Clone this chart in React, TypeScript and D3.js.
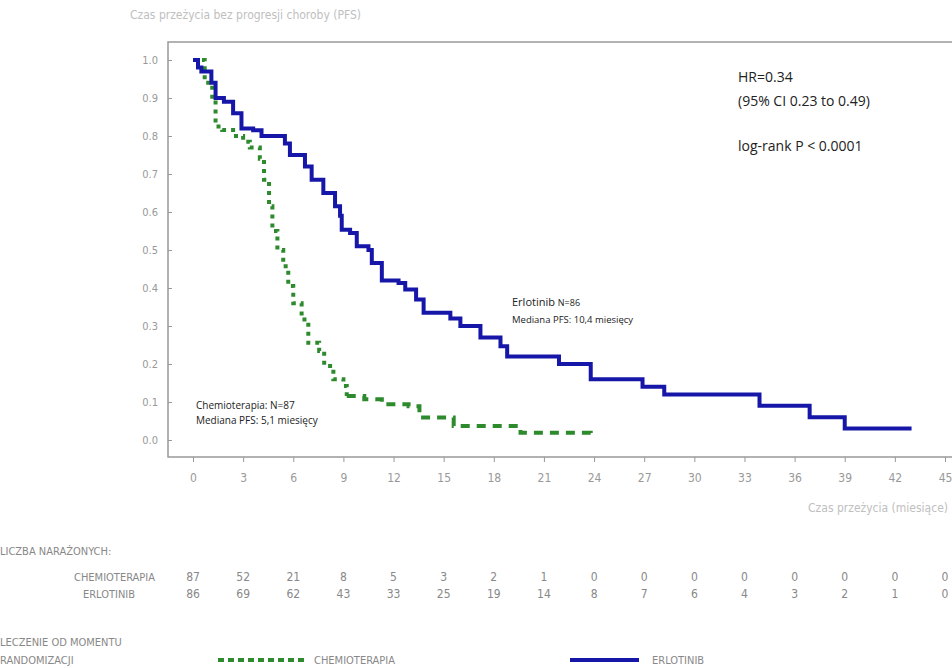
import React, { useEffect, useRef } from "react";
import * as d3 from "d3";

// Kaplan-Meier steps (month, survival)
const erloTime = [0, 0.3, 0.5, 1.1, 1.35, 1.85, 2.4, 2.9, 3.6, 4.1, 5.5, 5.8, 6.7, 7.1, 7.8, 8.5, 8.8, 8.9, 9.4, 9.8, 10.5, 10.7, 11.3, 12.3, 12.7, 13.35, 13.8, 15.4, 16.0, 17.2, 18.4, 18.8, 21.9, 23.8, 26.9, 28.2, 33.9, 36.9, 39.0, 43.0];
const erloSurv = [1.0, 0.98, 0.97, 0.94, 0.9, 0.89, 0.86, 0.82, 0.815, 0.8, 0.78, 0.75, 0.72, 0.685, 0.65, 0.615, 0.59, 0.553, 0.545, 0.51, 0.5, 0.466, 0.42, 0.413, 0.396, 0.37, 0.335, 0.32, 0.3, 0.27, 0.247, 0.22, 0.2, 0.16, 0.14, 0.12, 0.09, 0.06, 0.03, 0.03];
const chemoTime = [0, 0.7, 1.15, 1.35, 1.75, 2.4, 3.0, 3.4, 4.0, 4.25, 4.55, 4.75, 5.05, 5.4, 5.7, 6.0, 6.5, 6.9, 7.55, 7.85, 8.4, 9.0, 9.2, 10.25, 11.3, 12.9, 13.55, 15.6, 19.6, 23.8];
const chemoSurv = [1.0, 0.94, 0.895, 0.825, 0.816, 0.8, 0.785, 0.77, 0.74, 0.685, 0.615, 0.55, 0.5, 0.457, 0.405, 0.36, 0.317, 0.256, 0.234, 0.195, 0.16, 0.142, 0.116, 0.107, 0.094, 0.089, 0.059, 0.037, 0.019, 0.0];

const xTicks = d3.range(0, 46, 3);
const yTicks = [0, 0.1, 0.2, 0.3, 0.4, 0.5, 0.6, 0.7, 0.8, 0.9, 1.0];
const chemoRisk = [87, 52, 21, 8, 5, 3, 2, 1, 0, 0, 0, 0, 0, 0, 0, 0];
const erloRisk = [86, 69, 62, 43, 33, 25, 19, 14, 8, 7, 6, 4, 3, 2, 1, 0];

const FONT = "'Liberation Sans Narrow', 'DejaVu Sans Condensed', 'Open Sans', sans-serif";
const GREEN = "#2d8a2d";
const BLUE = "#1616a8";

const App: React.FC = () => {
  const ref = useRef<SVGSVGElement | null>(null);

  useEffect(() => {
    const svg = d3.select(ref.current);
    svg.selectAll("*").remove();

    const x = d3.scaleLinear().domain([0, 45]).range([193, 945]);
    const y = d3.scaleLinear().domain([0, 1]).range([440, 60]);

    svg.append("text").attr("x", 130).attr("y", 19).attr("fill", "#c0c0c0")
      .attr("font-size", 12).attr("font-family", FONT)
      .text("Czas przeżycia bez progresji choroby (PFS)");

    // frame
    svg.append("rect").attr("x", 168).attr("y", 42).attr("width", 800).attr("height", 415)
      .attr("fill", "none").attr("stroke", "#999").attr("stroke-width", 1.5);

    const yAxis = svg.append("g").attr("transform", "translate(168,0)")
      .call(d3.axisLeft(y).tickValues(yTicks).tickFormat(d3.format(".1f")).tickSize(4));
    yAxis.select(".domain").remove();
    yAxis.selectAll("line").attr("stroke", "#999").attr("transform", "translate(4,0)");
    yAxis.selectAll("text").attr("fill", "#999").attr("font-size", 11).attr("font-family", FONT).attr("x", -10);

    const xAxis = svg.append("g").attr("transform", "translate(0,457)")
      .call(d3.axisBottom(x).tickValues(xTicks).tickSize(5));
    xAxis.select(".domain").remove();
    xAxis.selectAll("line").attr("stroke", "#999");
    xAxis.selectAll("text").attr("fill", "#999").attr("font-size", 12).attr("font-family", FONT).attr("y", 16);

    svg.append("text").attr("x", 948).attr("y", 512).attr("text-anchor", "end")
      .attr("fill", "#c0c0c0").attr("font-size", 12).attr("font-family", FONT)
      .text("Czas przeżycia (miesiące)");

    const line = d3.line<[number, number]>().x((d) => x(d[0])).y((d) => y(d[1])).curve(d3.curveStepAfter);
    const chemo = chemoTime.map((t, i) => [t, chemoSurv[i]] as [number, number]);
    const erlo = erloTime.map((t, i) => [t, erloSurv[i]] as [number, number]);

    // dotted early part, dashed tail
    const split = chemo.findIndex((d) => d[0] >= 9.2);
    svg.append("path").attr("d", line(chemo.slice(0, split + 1))).attr("fill", "none").attr("stroke", GREEN)
      .attr("stroke-width", 4).attr("stroke-dasharray", "4,5");
    svg.append("path").attr("d", line(chemo.slice(split))).attr("fill", "none").attr("stroke", GREEN)
      .attr("stroke-width", 4).attr("stroke-dasharray", "9,7");
    svg.append("path").attr("d", line(erlo)).attr("fill", "none").attr("stroke", BLUE)
      .attr("stroke-width", 4);

    const ann = svg.append("g").attr("font-family", "'Open Sans', sans-serif").attr("fill", "#222");
    ann.append("text").attr("x", 738).attr("y", 82).attr("font-size", 14).text("HR=0.34");
    ann.append("text").attr("x", 738).attr("y", 106).attr("font-size", 14).text("(95% CI 0.23 to 0.49)");
    ann.append("text").attr("x", 738).attr("y", 151).attr("font-size", 14).text("log-rank P < 0.0001");
    const e1 = ann.append("text").attr("x", 512).attr("y", 306).attr("font-size", 11);
    e1.append("tspan").text("Erlotinib ");
    e1.append("tspan").attr("font-size", 9).text("N=86");
    ann.append("text").attr("x", 512).attr("y", 323).attr("font-size", 9.5).text("Mediana PFS: 10,4 miesięcy");
    ann.append("text").attr("x", 196).attr("y", 409).attr("font-size", 10).text("Chemioterapia: N=87");
    ann.append("text").attr("x", 196).attr("y", 424).attr("font-size", 10).text("Mediana PFS: 5,1 miesięcy");

    const tbl = svg.append("g").attr("font-family", FONT).attr("fill", "#888").attr("font-size", 11);
    tbl.append("text").attr("x", 0).attr("y", 555).text("LICZBA NARAŻONYCH:");
    tbl.append("text").attr("x", 155).attr("y", 581).attr("text-anchor", "end").text("CHEMIOTERAPIA");
    tbl.append("text").attr("x", 135).attr("y", 598).attr("text-anchor", "end").text("ERLOTINIB");
    tbl.selectAll("text.c").data(chemoRisk).join("text").attr("class", "c")
      .attr("x", (d, i) => x(xTicks[i])).attr("y", 581).attr("text-anchor", "middle")
      .attr("font-size", 12).text((d) => d);
    tbl.selectAll("text.e").data(erloRisk).join("text").attr("class", "e")
      .attr("x", (d, i) => x(xTicks[i])).attr("y", 598).attr("text-anchor", "middle")
      .attr("font-size", 12).text((d) => d);

    tbl.append("text").attr("x", 0).attr("y", 646).text("LECZENIE OD MOMENTU");
    tbl.append("text").attr("x", 0).attr("y", 664).text("RANDOMIZACJI");
    svg.append("line").attr("x1", 218).attr("x2", 306).attr("y1", 660).attr("y2", 660)
      .attr("stroke", GREEN).attr("stroke-width", 4).attr("stroke-dasharray", "6,4");
    tbl.append("text").attr("x", 314).attr("y", 664).text("CHEMIOTERAPIA");
    svg.append("line").attr("x1", 570).attr("x2", 639).attr("y1", 660).attr("y2", 660)
      .attr("stroke", BLUE).attr("stroke-width", 4);
    tbl.append("text").attr("x", 652).attr("y", 664).text("ERLOTINIB");
  }, []);

  return (
    <svg ref={ref} width={952} height={668}
      style={{ position: "absolute", left: 0, top: 0, background: "#fff" }} />
  );
};

export default App;
